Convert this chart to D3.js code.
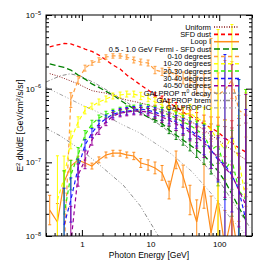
<!DOCTYPE html>
<html>
<head>
<meta charset="utf-8">
<script src="https://cdn.jsdelivr.net/npm/d3@7"></script>
<style>
  body { margin: 0; background: #fff; }
  text { font-family: "Liberation Sans", Arial, sans-serif; }
</style>
</head>
<body>
<div id="chart"></div>
<script>
// energy bins (GeV) shared by the template / bubble spectra
const energy = [0.34, 0.44, 0.55, 0.69, 0.88, 1.11, 1.40, 1.77, 2.24, 2.83, 3.6, 4.5, 5.7, 7.2, 9.2,
  11.6, 14.7, 18.6, 23.5, 29.7, 37.5, 47, 60, 76, 96, 121, 153, 193, 244];

// template spectra
const uniformV = [1.6e-6, 1.49e-6, 1.38e-6, 1.27e-6, 1.16e-6, 1.04e-6, 9.4e-7, 9.0e-7, 8.7e-7, 8.1e-7, 7.45e-7, 7.0e-7, 6.7e-7, 6.4e-7, 6.0e-7,
  5.55e-7, 5.1e-7, 4.75e-7, 4.4e-7, 4.0e-7, 3.65e-7, 3.21e-7, 2.75e-7, 2.35e-7, 2.01e-7, 1.72e-7, 1.47e-7, 1.26e-7, 1.08e-7];
const sfdV = [3.68e-6, 3.92e-6, 4.1e-6, 4.05e-6, 3.75e-6, 3.45e-6, 3.2e-6, 2.86e-6, 2.45e-6, 2.09e-6, 1.85e-6, 1.53e-6, 1.31e-6, 1.12e-6, 9.6e-7,
  8.2e-7, 7.25e-7, 6.4e-7, 5.65e-7, 4.8e-7, 4.25e-7, 3.76e-7, 3.32e-7, 2.93e-7, 2.58e-7, 2.12e-7, 1.84e-7, 1.57e-7, 1.38e-7];
const fermiSfdV = [2.17e-6, 2.03e-6, 1.94e-6, 1.79e-6, 1.53e-6, 1.35e-6, 1.16e-6, 1.04e-6, 9.2e-7, 8.2e-7, 7.0e-7, 6.1e-7, 5.35e-7, 4.65e-7, 4.1e-7,
  3.76e-7, 3.37e-7, 2.75e-7, 2.35e-7, 2.01e-7, 1.72e-7, 1.47e-7, 1.24e-7, 9.8e-8, 7.6e-8, 5.55e-8, 3.7e-8, 2.45e-8, 1.65e-8];
// error half-width in dex for the templates
const templateErr = [0, 0, 0, 0, 0, 0, 0, 0, 0, 0, 0, 0, 0, 0, 0,
  0.03, 0.04, 0.05, 0.06, 0.07, 0.08, 0.1, 0.12, 0.15, 0.2, 0.25, 0.3, 0.4, 0.5];

const loopIV = [2.25e-8, 1.55e-8, 5.4e-8, 8.9e-8, 1.08e-7, 9.8e-8, 8.9e-8, 1.08e-7, 1.26e-7, 1.33e-7, 1.33e-7, 1.26e-7, 1.22e-7, 9.8e-8, 9.2e-8,
  8.4e-8, 7.2e-8, 4.2e-8, 1.08e-7, 6.5e-8, 3.08e-8, 1.55e-8, 4.75e-8, 1.1e-8, 3.08e-8, 7e-9, 1.93e-8, 5e-9, 8e-9];
const loopIErr = [0.2, 0.25, 0.15, 0.08, 0.05, 0.04, 0.04, 0.04, 0.04, 0.04, 0.04, 0.04, 0.05, 0.06, 0.07,
  0.08, 0.1, 0.12, 0.12, 0.15, 0.2, 0.3, 0.3, 0.5, 0.5, 0.5, 0.5, 0.5, 0.5];

// bubble spectra by latitude band
const deg0to10 = [null, null, 6e-9, 7.0e-7, 1.31e-6, 1.90e-6, 2.23e-6, 2.45e-6, 2.69e-6, 2.78e-6, 2.78e-6, 2.69e-6, 2.45e-6, 2.30e-6, 2.23e-6,
  1.79e-6, 1.69e-6, 1.69e-6, 1.53e-6, 1.40e-6, 1.31e-6, 1.12e-6, 1.12e-6, 9.6e-7, 8.2e-7, 9.6e-7, 1.31e-6, 5.1e-7, 4.4e-7];
const err0to10 = [0, 0, 0, 0.1, 0.05, 0.04, 0.03, 0.03, 0.03, 0.03, 0.03, 0.03, 0.04, 0.04, 0.04,
  0.05, 0.05, 0.06, 0.07, 0.08, 0.1, 0.12, 0.15, 0.7, 0.3, 0.4, 0.25, 0.2, 0.3];
const deg10to20 = [null, 3.08e-8, 6.1e-8, 2.01e-7, 3.53e-7, 5.1e-7, 5.8e-7, 6.6e-7, 7.25e-7, 7.95e-7, 8.2e-7, 8.45e-7, 8.45e-7, 7.95e-7, 7.45e-7,
  6.6e-7, 6.0e-7, 5.45e-7, 4.8e-7, 4.4e-7, 4.65e-7, 4.0e-7, 3.53e-7, 2.75e-7, 2.01e-7, 1.47e-7, 2.35e-7, 1.08e-7, 3.08e-8];
const err10to20 = [0, 0.6, 0.3, 0.12, 0.07, 0.05, 0.04, 0.04, 0.04, 0.04, 0.04, 0.04, 0.04, 0.05, 0.05,
  0.06, 0.07, 0.08, 0.09, 0.1, 0.12, 0.15, 0.2, 0.3, 1.5, 0.4, 1.5, 0.6, 1.5];
const deg20to30 = [null, null, 1.93e-8, 6.7e-8, 1.26e-7, 2.35e-7, 3.32e-7, 4.0e-7, 4.5e-7, 4.8e-7, 5.1e-7, 5.3e-7, 5.45e-7, 5.65e-7, 5.45e-7,
  5.1e-7, 4.8e-7, 4.4e-7, 4.0e-7, 3.53e-7, 3.21e-7, 2.75e-7, 2.35e-7, 1.47e-7, 1.72e-7, 7.9e-8, 1.08e-7, 4.2e-8, 3.08e-8];
const err20to30 = [0, 0, 0.6, 0.2, 0.1, 0.06, 0.05, 0.04, 0.04, 0.04, 0.04, 0.04, 0.04, 0.04, 0.05,
  0.05, 0.06, 0.07, 0.08, 0.09, 0.1, 0.12, 0.15, 0.2, 0.25, 0.3, 0.4, 1.5, 1.5];
const deg30to40 = [null, null, 1.41e-8, 3.08e-8, 8.4e-8, 1.72e-7, 2.5e-7, 3.32e-7, 3.9e-7, 4.5e-7, 4.8e-7, 4.95e-7, 5.1e-7, 5.3e-7, 5.1e-7,
  4.8e-7, 4.4e-7, 4.0e-7, 3.53e-7, 3.1e-7, 2.75e-7, 2.35e-7, 2.01e-7, 1.47e-7, 1.08e-7, 9.2e-8, 6.7e-8, 4.2e-8, 1.65e-8];
const err30to40 = [0, 0, 0.5, 0.3, 0.12, 0.07, 0.06, 0.05, 0.05, 0.05, 0.05, 0.05, 0.05, 0.05, 0.05,
  0.06, 0.07, 0.08, 0.09, 0.1, 0.12, 0.15, 0.2, 0.25, 0.3, 1.5, 0.5, 1.5, 1.5];
const deg40to50 = [null, null, null, 8e-9, 6.7e-8, 1.08e-7, 2.01e-7, 2.75e-7, 3.53e-7, 4.25e-7, 4.65e-7, 4.8e-7, 4.95e-7, 4.95e-7, 4.8e-7,
  4.5e-7, 4.1e-7, 3.76e-7, 3.32e-7, 2.93e-7, 2.58e-7, 2.2e-7, 1.84e-7, 1.47e-7, 1.15e-7, 8.4e-8, 6.7e-8, 4.2e-8, 2.64e-8];
const err40to50 = [0, 0, 0, 0.5, 0.15, 0.12, 0.07, 0.06, 0.05, 0.05, 0.05, 0.05, 0.05, 0.05, 0.05,
  0.06, 0.07, 0.08, 0.09, 0.1, 0.12, 0.15, 0.2, 0.25, 0.3, 0.4, 1.5, 0.5, 1.5];

// GALPROP model curves
const galE = [0.3, 0.48, 0.67, 0.94, 1.55, 2.56, 4.24, 7.6, 13.7, 26.8, 44.4, 62, 102.6, 169, 281];
const galPi0 = [1.23e-6, 1.49e-6, 1.59e-6, 1.49e-6, 1.19e-6, 9.0e-7, 6.8e-7, 4.65e-7, 3.21e-7, 2.01e-7, 1.26e-7, 9.2e-8, 5.4e-8, 2.64e-8, 1.3e-8];
const galBremE = [0.3, 0.48, 1.0, 2.0, 4.0, 7.0, 10, 15];
const galBrem = [2.9e-7, 2.3e-7, 1.45e-7, 8.5e-8, 4.9e-8, 2.6e-8, 1.5e-8, 8e-9];
const galIcE = [0.3, 0.6, 1, 2, 4, 7, 10, 20, 40, 80, 150, 300];
const galIc = [1.04e-6, 7.6e-7, 6.0e-7, 4.5e-7, 3.2e-7, 2.5e-7, 2.0e-7, 1.3e-7, 7.5e-8, 3.6e-8, 1.7e-8, 8.5e-9];

const legendLabels = ["Uniform", "SFD dust", "Loop I", "0.5 - 1.0 GeV Fermi - SFD dust", "0-10 degrees", "10-20 degrees",
  "20-30 degrees", "30-40 degrees", "40-50 degrees", "GALPROP \u03c0", "GALPROP brem", "GALPROP IC"];
const yTicks = [1e-8, 1e-7, 1e-6, 1e-5];
const xTicks = [1, 10, 100];

let svgWidth = 266, svgHeight = 266;
let margin = { top: 15, left: 46, bottom: 30, right: 14 };
let width = svgWidth - margin.left - margin.right;
let height = svgHeight - margin.top - margin.bottom;

let svg = d3.select("#chart").append("svg")
  .attr("width", svgWidth).attr("height", svgHeight);

let x = d3.scaleLog().domain([0.3, 300]).range([0, width]);
let y = d3.scaleLog().domain([1e-8, 1e-5]).range([height, 0]);

let g = svg.append("g").attr("transform", `translate(${margin.left},${margin.top})`);

g.append("clipPath").attr("id", "clip").append("rect")
  .attr("width", width).attr("height", height);
let plot = g.append("g").attr("clip-path", "url(#clip)");

let line = d3.line()
  .defined(d => d[1] != null)
  .x(d => x(d[0])).y(d => y(d[1]));

function drawSeries(vals, err, color, dash, w) {
  let pts = energy.map((e, i) => [e, vals[i], err ? err[i] : 0]);
  plot.append("path").datum(pts)
    .attr("d", line).attr("fill", "none")
    .attr("stroke", color).attr("stroke-width", w)
    .attr("stroke-dasharray", dash);
  let bars = pts.filter(d => d[1] != null && d[2] > 0);
  let eb = plot.append("g").attr("stroke", color).attr("stroke-width", 1);
  bars.forEach(d => {
    let y1 = y(d[1] * Math.pow(10, d[2])), y0 = y(d[1] / Math.pow(10, d[2]));
    let cx = x(d[0]);
    eb.append("line").attr("x1", cx).attr("x2", cx).attr("y1", y1).attr("y2", y0);
    eb.append("line").attr("x1", cx - 1.5).attr("x2", cx + 1.5).attr("y1", y1).attr("y2", y1);
    eb.append("line").attr("x1", cx - 1.5).attr("x2", cx + 1.5).attr("y1", y0).attr("y2", y0);
  });
}

function drawModel(es, vals, color, dash) {
  plot.append("path").datum(es.map((e, i) => [e, vals[i]]))
    .attr("d", line).attr("fill", "none")
    .attr("stroke", color).attr("stroke-width", 1)
    .attr("stroke-dasharray", dash);
}

const styles = [
  { c: "#8b1a1a", d: "1,1.5", w: 1 },
  { c: "#ff0000", d: "4,3", w: 1.3 },
  { c: "#ff8c1a", d: null, w: 1.2 },
  { c: "#008000", d: "6,3", w: 1.3 },
  { c: "#ff9d3c", d: "4,3", w: 1.2 },
  { c: "#ffff00", d: "4,3", w: 1.2 },
  { c: "#33ee00", d: "4,3", w: 1.2 },
  { c: "#1a1aff", d: "4,3", w: 1.2 },
  { c: "#990099", d: "4,3", w: 1.2 },
  { c: "#8c8c8c", d: "4,2,1,2", w: 1 },
  { c: "#8c8c8c", d: "4,2,1,2,1,2", w: 1 },
  { c: "#a6a6a6", d: "4,2,1,2,1,2,1,2", w: 1 }
];

drawModel(galIcE, galIc, styles[11].c, styles[11].d);
drawModel(galBremE, galBrem, styles[10].c, styles[10].d);
drawModel(galE, galPi0, styles[9].c, styles[9].d);
drawSeries(loopIV, loopIErr, styles[2].c, styles[2].d, styles[2].w);
drawSeries(fermiSfdV, templateErr, styles[3].c, styles[3].d, styles[3].w);
drawSeries(uniformV, templateErr, styles[0].c, styles[0].d, styles[0].w);
drawSeries(sfdV, templateErr, styles[1].c, styles[1].d, styles[1].w);
drawSeries(deg0to10, err0to10, styles[4].c, styles[4].d, styles[4].w);
drawSeries(deg10to20, err10to20, styles[5].c, styles[5].d, styles[5].w);
drawSeries(deg20to30, err20to30, styles[6].c, styles[6].d, styles[6].w);
drawSeries(deg30to40, err30to40, styles[7].c, styles[7].d, styles[7].w);
drawSeries(deg40to50, err40to50, styles[8].c, styles[8].d, styles[8].w);

// axes: inward ticks on all four sides
let xMinor = x.ticks().filter(t => xTicks.indexOf(t) < 0);
let yMinor = y.ticks().filter(t => yTicks.indexOf(t) < 0);

function axisStyle(sel) {
  sel.select(".domain").remove();
  sel.selectAll("line").attr("stroke", "#000");
}

g.append("g").attr("transform", `translate(0,${height})`)
  .call(d3.axisBottom(x).tickValues(xMinor).tickSize(-3).tickFormat("")).call(axisStyle);
g.append("g").attr("transform", `translate(0,${height})`)
  .call(d3.axisBottom(x).tickValues(xTicks).tickSize(-6).tickPadding(5).tickFormat(d3.format("d")))
  .call(axisStyle)
  .selectAll("text").attr("font-size", 8).attr("fill", "#000")
  .attr("font-family", "Liberation Sans, Arial, sans-serif");
g.append("g")
  .call(d3.axisTop(x).tickValues(xMinor).tickSize(-3).tickFormat("")).call(axisStyle);
g.append("g")
  .call(d3.axisTop(x).tickValues(xTicks).tickSize(-6).tickFormat("")).call(axisStyle);

g.append("g")
  .call(d3.axisLeft(y).tickValues(yMinor).tickSize(-3).tickFormat("")).call(axisStyle);
let yl = g.append("g")
  .call(d3.axisLeft(y).tickValues(yTicks).tickSize(-6).tickFormat("")).call(axisStyle);
g.append("g").attr("transform", `translate(${width},0)`)
  .call(d3.axisRight(y).tickValues(yMinor).tickSize(-3).tickFormat("")).call(axisStyle);
g.append("g").attr("transform", `translate(${width},0)`)
  .call(d3.axisRight(y).tickValues(yTicks).tickSize(-6).tickFormat("")).call(axisStyle);

// y tick labels as 10^n
yTicks.forEach(t => {
  let tx = yl.append("text").attr("x", -5).attr("y", y(t) + 3)
    .attr("text-anchor", "end").attr("font-size", 8).attr("fill", "#000");
  tx.append("tspan").text("10");
  tx.append("tspan").attr("font-size", 5.5).attr("dy", -3.5).text("\u2212" + Math.round(-Math.log10(t)));
});

g.append("rect").attr("width", width).attr("height", height)
  .attr("fill", "none").attr("stroke", "#000").attr("stroke-width", 1);

// axis titles
svg.append("text").attr("x", margin.left + width / 2).attr("y", 258)
  .attr("text-anchor", "middle").attr("font-size", 8.5).text("Photon Energy [GeV]");
let yt = svg.append("text")
  .attr("transform", `translate(23,${margin.top + height / 2}) rotate(-90)`)
  .attr("text-anchor", "middle").attr("font-size", 8.5);
yt.append("tspan").text("E");
yt.append("tspan").attr("font-size", 6).attr("dy", -3.5).text("2");
yt.append("tspan").attr("dy", 3.5).text(" dN/dE [GeV/cm");
yt.append("tspan").attr("font-size", 6).attr("dy", -3.5).text("2");
yt.append("tspan").attr("dy", 3.5).text("/s/sr]");

// legend, right-aligned labels with line samples
let lg = svg.append("g");
legendLabels.forEach((lab, i) => {
  let ly = 27 + i * 7.35;
  let t = lg.append("text").attr("x", 211).attr("y", ly + 2.5)
    .attr("text-anchor", "end").attr("font-size", 7.4).attr("fill", "#000").text(lab);
  if (i === 9) {
    t.append("tspan").attr("font-size", 5).attr("dy", -3).text("0");
    t.append("tspan").attr("dy", 3).text(" decay");
  }
  lg.append("line").attr("x1", 214).attr("x2", 239).attr("y1", ly).attr("y2", ly)
    .attr("stroke", styles[i].c).attr("stroke-width", styles[i].w + 0.3)
    .attr("stroke-dasharray", styles[i].d);
});
</script>
</body>
</html>
